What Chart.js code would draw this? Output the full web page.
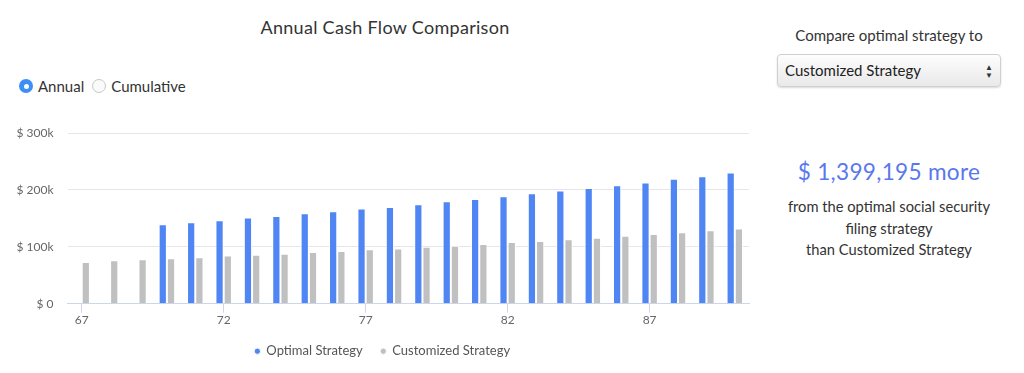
<!DOCTYPE html>
<html>
<head>
<meta charset="utf-8">
<script src="https://cdn.jsdelivr.net/npm/chart.js@4"></script>
<style>
  body { margin: 0; width: 1024px; height: 373px; background: #fff; font-family: Lato, sans-serif; color: #333; position: relative; overflow: hidden; }
  .title { position: absolute; left: 0; width: 770px; top: 16px; text-align: center; font-size: 18px; letter-spacing: 0.3px; color: #333; }
  .radios { position: absolute; left: 19px; top: 77px; font-size: 15px; color: #333; display: flex; align-items: center; }
  .radio { width: 14px; height: 14px; border-radius: 50%; box-sizing: border-box; display: inline-block; margin-right: 5px; position: relative; }
  .radio.on { background: #3b8ff5; }
  .radio.on::after { content: ""; position: absolute; left: 4.5px; top: 4.5px; width: 5px; height: 5px; border-radius: 50%; background: #fff; }
  .radio.off { border: 1px solid #c8c8c8; background: #fafafa; margin-left: 8px; }
  #wrap { position: absolute; left: 0; top: 120px; width: 770px; height: 253px; }
  .side { position: absolute; left: 776px; width: 226px; text-align: center; }
  .cmp { top: 26px; font-size: 15px; }
  .select { position: absolute; left: 777px; top: 54px; width: 224px; height: 33px; box-sizing: border-box; border: 1px solid #d0d0d0; border-radius: 4px; background: linear-gradient(#fdfdfd, #e9e9e9); box-shadow: 0 1px 2px rgba(0,0,0,0.15); font-size: 15px; color: #222; line-height: 31px; padding-left: 7px; }
  .arrows { position: absolute; right: 7px; top: 0; font-size: 8px; line-height: 8px; padding-top: 8px; color: #333; }
  .amount { top: 158px; font-size: 22.6px; color: #5a78ee; letter-spacing: 0.3px; }
  .note { top: 196px; font-size: 14.7px; line-height: 21.5px; }
</style>
</head>
<body>
<div class="title">Annual Cash Flow Comparison</div>
<div class="radios"><span class="radio on"></span>Annual<span class="radio off"></span>Cumulative</div>
<div id="wrap"><canvas id="chart"></canvas></div>
<div class="side cmp">Compare optimal strategy to</div>
<div class="select">Customized Strategy<div class="arrows">&#9650;<br>&#9660;</div></div>
<div class="side amount">$ 1,399,195 more</div>
<div class="side note">from the optimal social security<br>filing strategy<br>than Customized Strategy</div>
<script>
const ages = [67, 68, 69, 70, 71, 72, 73, 74, 75, 76, 77, 78, 79, 80, 81, 82, 83, 84, 85, 86, 87, 88, 89, 90];
const optimal = [null, null, null, 139600, 143000, 146600, 151300, 154300, 159000, 162500, 167200, 170000,
  174800, 180000, 184200, 188900, 194100, 198800, 203500, 208200, 212900, 219400, 224000, 230500];
const customized = [73300, 76200, 78000, 79800, 81500, 84500, 86200, 88000, 90900, 92700, 95600, 96800,
  100300, 102000, 105000, 108500, 110300, 113200, 116100, 119600, 122600, 125500, 129000, 132000];
const yTicks = [0, 100000, 200000, 300000];

const chart = document.querySelector("#chart").getContext("2d");

new Chart(chart, {
  type: "bar",
  data: {
    labels: ages,
    datasets: [
      {
        label: "Optimal Strategy",
        data: optimal,
        backgroundColor: "#4f86f3",
        borderColor: "#ffffff",
        borderWidth: 1,
        categoryPercentage: 0.58,
        barPercentage: 1,
      },
      {
        label: "Customized Strategy",
        data: customized,
        backgroundColor: "#c0c0c0",
        borderColor: "#ffffff",
        borderWidth: 1,
        categoryPercentage: 0.58,
        barPercentage: 1,
      },
    ],
  },
  options: {
    responsive: true,
    maintainAspectRatio: false,
    animation: false,
    layout: { padding: { top: 13, right: 21, left: 16, bottom: 5.3 } },
    plugins: {
      tooltip: { enabled: false },
      legend: {
        position: "bottom",
        labels: {
          usePointStyle: true,
          pointStyle: "circle",
          boxWidth: 5,
          boxHeight: 4.5,
          padding: 18,
          color: "#555",
          font: { family: "Lato", size: 13 },
        },
      },
    },
    scales: {
      x: {
        offset: true,
        border: { color: "#ccd6eb", width: 1 },
        grid: {
          offset: false,
          drawOnChartArea: false,
          drawTicks: true,
          tickLength: 9,
          color: (ctx) => (ctx.index % 5 === 0 ? "#ccd6eb" : "rgba(0,0,0,0)"),
        },
        ticks: {
          autoSkip: false,
          maxRotation: 0,
          padding: 0,
          color: "#666",
          font: { family: "Lato", size: 12 },
          callback: function (v, i) {
            return i % 5 === 0 ? this.getLabelForValue(v) : "";
          },
        },
        afterFit: (s) => { s.height = 23; },
      },
      y: {
        min: 0,
        max: 300000,
        border: { display: false },
        grid: { color: "#e6e6e6", drawTicks: true, tickLength: 14, tickColor: "rgba(0,0,0,0)" },
        afterBuildTicks: (s) => { s.ticks = yTicks.map((v) => ({ value: v })); },
        ticks: {
          padding: 0,
          color: "#666",
          font: { family: "Lato", size: 12 },
          callback: (v) => "$ " + (v === 0 ? "0" : v / 1000 + "k"),
        },
        afterFit: (s) => { s.width = 51.5; },
      },
    },
  },
});
</script>
</body>
</html>
